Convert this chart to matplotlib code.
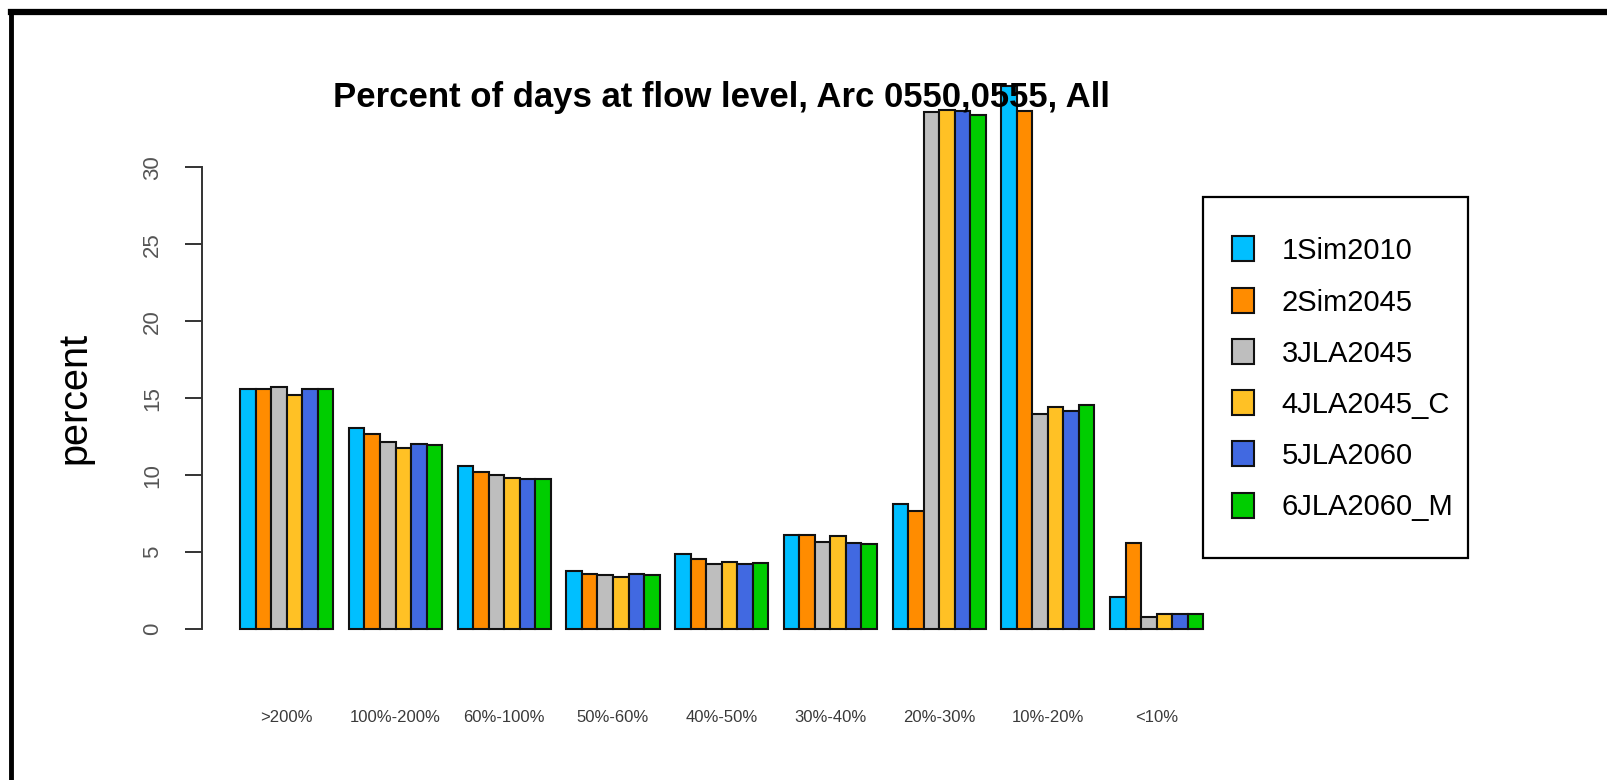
import matplotlib.pyplot as plt
from matplotlib.lines import Line2D
from matplotlib.patches import Rectangle

categories = ['>200%', '100%-200%', '60%-100%', '50%-60%', '40%-50%',
              '30%-40%', '20%-30%', '10%-20%', '<10%']
series_names = ['1Sim2010', '2Sim2045', '3JLA2045', '4JLA2045_C', '5JLA2060', '6JLA2060_M']

sim2010 = [15.6, 13.05, 10.6, 3.75, 4.85, 6.1, 8.1, 35.3, 2.1]
sim2045 = [15.6, 12.65, 10.2, 3.6, 4.55, 6.1, 7.65, 33.65, 5.6]
jla2045 = [15.7, 12.15, 10.0, 3.5, 4.25, 5.65, 33.6, 14.0, 0.8]
jla2045_c = [15.2, 11.75, 9.8, 3.35, 4.35, 6.05, 33.7, 14.45, 0.95]
jla2060 = [15.6, 12.0, 9.75, 3.6, 4.25, 5.6, 33.65, 14.15, 0.95]
jla2060_m = [15.6, 11.95, 9.75, 3.5, 4.3, 5.55, 33.4, 14.55, 0.95]

yticks = [0, 5, 10, 15, 20, 25, 30]

colors = ['#00BFFF', '#FF8C00', '#BEBEBE', '#FFC125', '#4169E1', '#00CD00']
all_series = [sim2010, sim2045, jla2045, jla2045_c, jla2060, jla2060_m]

plt.rcParams['font.family'] = ['Liberation Sans', 'DejaVu Sans']

W, H = 1608, 780
fig = plt.figure(figsize=(W / 100, H / 100), dpi=100)
fig.patch.set_facecolor('white')

# plot region in pixels (R barplot style: bars span 1..63 with 4% padding)
left, right, top, bottom = 201.7, 1241.7, 148.8, 647.5
ax = fig.add_axes([left / W, 1 - bottom / H, (right - left) / W, (bottom - top) / H])

n = len(all_series)
for i, vals in enumerate(all_series):
    xs = [1 + (n + 1) * g + i for g in range(len(categories))]
    ax.bar(xs, vals, width=1, align='edge', color=colors[i], edgecolor='#111111',
           linewidth=1.5, clip_on=False)

ax.set_xlim(1 - 62 * 0.04, 63 + 62 * 0.04)
ax.set_ylim(-1.2, 31.2)

centers = [1 + (n + 1) * g + n / 2 for g in range(len(categories))]
ax.set_xticks(centers)
ax.set_xticklabels(categories, fontsize=12, color='#3a3a3a')
ax.tick_params(axis='x', length=0, pad=45)

ax.set_yticks(yticks)
ax.set_yticklabels([str(t) for t in yticks], rotation=90, va='center', fontsize=16, color='#555555')
ax.tick_params(axis='y', length=12, width=1.4, pad=16, color='#333333')

for s in ['top', 'right', 'bottom']:
    ax.spines[s].set_visible(False)
ax.spines['left'].set_bounds(0, 30)
ax.spines['left'].set_linewidth(1.4)
ax.spines['left'].set_color('#333333')

fig.text(721.7 / W, 1 - 107 / H, 'Percent of days at flow level, Arc 0550,0555, All',
         ha='center', va='baseline', fontsize=25, fontweight='bold', zorder=5)
fig.text(74 / W, 1 - 398 / H, 'percent', rotation=90, ha='center', va='center', fontsize=28.5)

# legend box drawn by hand, R style
lx0, ly0, lx1, ly1 = 1202.7, 196.7, 1468.3, 557.6
fig.add_artist(Rectangle((lx0 / W, 1 - ly1 / H), (lx1 - lx0) / W, (ly1 - ly0) / H,
                         transform=fig.transFigure, fill=False, edgecolor='black', linewidth=1.6))
for k, name in enumerate(series_names):
    yc = 249 + 51.2 * k
    fig.add_artist(Rectangle((1231.7 / W, 1 - (yc + 12.5) / H), 22.3 / W, 25 / H,
                             transform=fig.transFigure, facecolor=colors[k],
                             edgecolor='#111111', linewidth=1.5))
    fig.text(1281.7 / W, 1 - (yc + 10.4) / H, name, ha='left', va='baseline', fontsize=21)

# frame of the screenshot (top and left edges)
fig.add_artist(Line2D([11 / W, 1], [1 - 12 / H, 1 - 12 / H], color='black', linewidth=4.5))
fig.add_artist(Line2D([11 / W, 11 / W], [0, 1 - 12 / H], color='black', linewidth=3.5))

fig.savefig('out.png', dpi=100)
